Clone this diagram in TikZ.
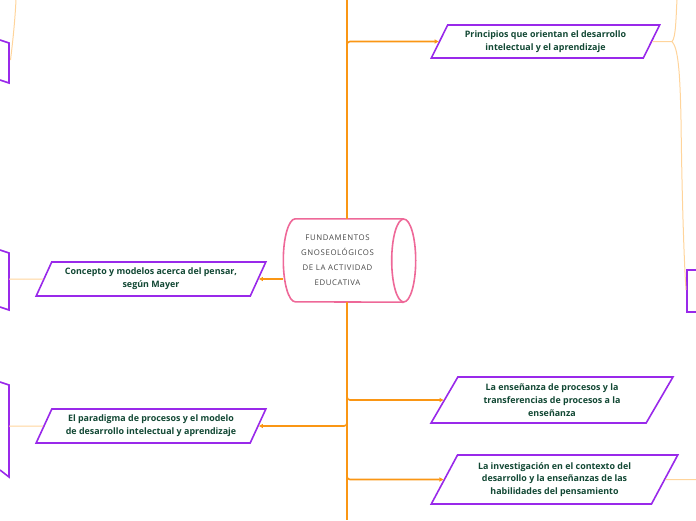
\documentclass[tikz,border=0pt]{standalone}
\usepackage{fontspec}
\setmainfont{Open Sans}
\usetikzlibrary{shapes.geometric, arrows.meta, positioning, calc}
\definecolor{MMpurple}{RGB}{153, 41, 234}
\definecolor{MMpink}{RGB}{238, 104, 152}
\definecolor{MMorange}{RGB}{250, 150, 20}
\definecolor{MMpeach}{RGB}{255, 212, 155}
\definecolor{MMgreen}{RGB}{18, 72, 52}
\definecolor{MMgray}{RGB}{70, 70, 70}
\tikzset{
    topicbox/.style={
        trapezium, trapezium left angle=60, trapezium right angle=120,
        trapezium stretches=true, draw=MMpurple, fill=white, line width=1.6pt,
        align=center, text=MMgreen, inner sep=1pt,
        font=\bfseries\fontsize{8.9}{12.7}\selectfont
    },
    branch/.style={draw=MMorange, line width=1.6pt, rounded corners=3pt},
    arrow/.style={branch, -{Triangle[length=4pt, width=4pt]}},
    sublink/.style={draw=MMpeach, line width=1pt},
    cutbox/.style={draw=MMpurple, line width=1.6pt},
}

\begin{document}
\begin{tikzpicture}[x=1pt, y=-1pt]
    \useasboundingbox (0,0) rectangle (696,520);
    \clip (0,0) rectangle (696,520);

    % Central topic
    \node[font=\fontsize{7.8}{15}\selectfont\addfontfeatures{LetterSpace=8}, text=MMgray, align=center, minimum width=108pt, minimum height=83pt, inner sep=0pt] (root) at (337.5,260.5) {FUNDAMENTOS\\GNOSEOLÓGICOS\\DE LA ACTIVIDAD\\EDUCATIVA};
    \draw[MMpink, line width=1.6pt] ($(root.north east)+(12,0)$) -- ($(root.north west)+(12,0)$) arc[start angle=270, end angle=90, x radius=12, y radius=41.5] -- ($(root.south east)+(12,0)$);
    \draw[MMpink, line width=1.6pt, fill=white] ($(root.east)+(12,0)$) ellipse[x radius=12, y radius=41.5];

    % Main topics
    \node[topicbox, minimum width=229pt, minimum height=33pt] (pri) at (545.5,41.5) {Principios que orientan el desarrollo\\intelectual y el aprendizaje};
    \node[topicbox, minimum width=230pt, minimum height=34pt] (con) at (151,279) {Concepto y modelos acerca del pensar,\\según Mayer};
    \node[topicbox, minimum width=230pt, minimum height=34pt] (par) at (151,426) {El paradigma de procesos y el modelo\\de desarrollo intelectual y aprendizaje};
    \node[topicbox, minimum width=242pt, minimum height=46pt] (ens) at (552,400) {La enseñanza de procesos y la\\transferencias de procesos a la\\enseñanza};
    \node[topicbox, minimum width=247pt, minimum height=49pt] (inv) at (554.5,479.5) {La investigación en el contexto del\\desarrollo y la enseñanzas de las\\habilidades del pensamiento};

    % Trunk and branches
    \coordinate (top) at (347,0);
    \coordinate (bot) at (347,520);
    \draw[branch] (top) -- (top |- root.north);
    \draw[branch] (root.south -| bot) -- (bot);
    \draw[arrow] (root.north -| top) |- (pri.west);
    \draw[arrow] (root.west |- con.east) -- (con.east);
    \draw[arrow] (root.south -| bot) |- (par.east);
    \draw[arrow] (root.south -| bot) |- (ens.west);
    \draw[arrow] (root.south -| bot) |- (inv.west);

    % Subtopics cut off at the edges
    \draw[cutbox] (0,40) -- (9,43) -- (9,83) -- (0,80);
    \draw[cutbox] (0,250) -- (9,253) -- (9,310) -- (0,307);
    \draw[cutbox] (0,382) -- (9,385) -- (9,477) -- (0,470);
    \draw[cutbox] (696,270) -- (687,270) -- (687,312) -- (696,312);
    \coordinate (l1) at (10.5,60);
    \coordinate (l2) at (9,279);
    \coordinate (l3) at (9,426);
    \coordinate (j1) at (672,41.5);
    \coordinate (r1) at (686,290);
    \coordinate (r2) at (696,479.5);
    \draw[sublink] (l1) .. controls (13,40) and (15,20) .. (16,0);
    \draw[sublink] (l2) -- (con.west);
    \draw[sublink] (l3) -- (par.west);
    \draw[sublink] (pri.east) -- (j1);
    \draw[sublink] (j1) .. controls (676,38) and (676,15) .. (677,0);
    \draw[sublink] (j1) .. controls (678,48) and (680,70) .. (681,120) .. controls (682,200) and (684,260) .. (r1);
    \draw[sublink] (inv.east) -- (r2);
\end{tikzpicture}
\end{document}
